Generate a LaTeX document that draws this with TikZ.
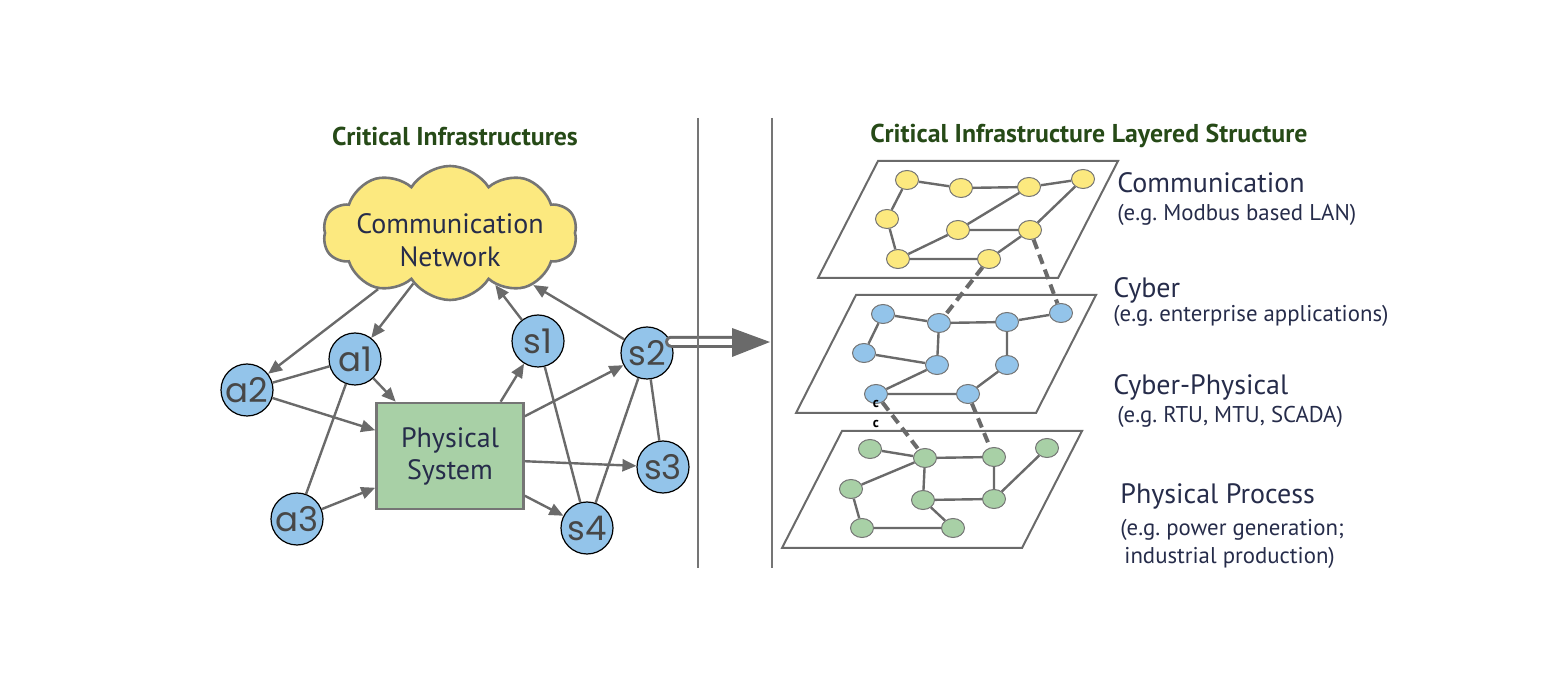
\documentclass[tikz,border=0pt]{standalone}
\usepackage{fontspec}
\setmainfont{PT Sans}
\newfontfamily\handfont{Poppins}
\frenchspacing
\usetikzlibrary{shapes.symbols,shapes.geometric,arrows.meta}
\definecolor{lgray}{HTML}{6A6A6A}
\definecolor{bgray}{HTML}{757575}
\definecolor{cblue}{HTML}{93C4EA}
\definecolor{cyell}{HTML}{FCE97F}
\definecolor{cgreen}{HTML}{A8D0A6}
\definecolor{navy}{HTML}{262C4A}
\definecolor{tgreen}{HTML}{264A17}
\tikzset{
  agent/.style={circle,draw=black,line width=0.6pt,fill=cblue,minimum size=26pt,inner sep=0pt,
    font=\handfont\fontsize{17}{17}\selectfont,text=black!72},
  conn/.style={draw=lgray,line width=1.2pt},
  arr/.style={conn,-{Triangle[length=7pt,width=6pt]}},
  plane/.style={draw=lgray,line width=1pt},
  ledge/.style={draw=lgray,line width=1.2pt},
  dashln/.style={draw=lgray,line width=2pt,dash pattern=on 5pt off 3pt},
  ynode/.style={ellipse,draw=bgray,line width=0.5pt,fill=cyell,minimum width=11.5pt,minimum height=9.5pt,inner sep=0pt},
  bnode/.style={ynode,fill=cblue},
  gnode/.style={ynode,fill=cgreen},
  lname/.style={anchor=mid west,inner sep=0pt,text=navy,font=\fontsize{14}{15}\selectfont},
  lsub/.style={anchor=mid west,inner sep=0pt,text=navy,font=\fontsize{11.4}{12}\selectfont},
  ttl/.style={inner sep=0pt,text=tgreen,font=\bfseries\fontsize{12.9}{14}\selectfont},
}
\begin{document}
\begin{tikzpicture}[x=0.5pt,y=-0.5pt]
\useasboundingbox (0,0) rectangle (1568,699);
% titles
\node[ttl] (t1) at (455,136) {Critical Infrastructures};
\node[ttl] (t2) at (1089,136) {Critical Infrastructure Layered Structure};
% cloud
\node[cloud,cloud puffs=10,cloud puff arc=115,aspect=2,draw=bgray,line width=1.3pt,fill=cyell,
  minimum width=127pt,minimum height=67pt,inner sep=0pt] (cl) at (450,233) {};
\node[align=center,text=navy,inner sep=0pt,font=\fontsize{14}{16.5}\selectfont] (cltext) at (450,240) {Communication\\Network};
% physical system
\node[draw=bgray,line width=1.3pt,fill=cgreen,minimum width=73.5pt,minimum height=53pt,inner sep=0pt,
  align=center,text=navy,font=\fontsize{14}{16}\selectfont] (box) at (450,456) {Physical\\System};
% agents
\node[agent] (a1) at (355,359) {a1};
\node[agent] (a2) at (247,390) {a2};
\node[agent] (a3) at (297,519) {a3};
\node[agent] (s1) at (538,341) {s1};
\node[agent] (s2) at (647,353) {s2};
\node[agent] (s3) at (663,467) {s3};
\node[agent] (s4) at (587,528) {s4};
% arrows
\draw[arr] (cl.218) -- (a2);
\draw[arr] (cl.234) -- (a1);
\draw[arr] (s1) -- (cl.311);
\draw[arr] (s2) -- (cl.328);
\draw[arr] (a1) -- (box.135);
\draw[arr] (a2) -- (box.161);
\draw[arr] (a3) -- (box.203);
\draw[arr] (box.47) -- (s1);
\draw[arr] (box.28) -- (s2);
\draw[arr] (box.356) -- (s3);
\draw[arr] (box.332) -- (s4);
\draw[conn] (a2) -- (a1);
\draw[conn] (a1) -- (a3);
\draw[conn] (s1) -- (s4);
\draw[conn] (s2) -- (s4);
\draw[conn] (s2) -- (s3);
% big arrow
\coordinate (sh) at (732,342);
\coordinate (tip) at (770,342);
\draw[draw=lgray,line width=1.5pt,double=white,double distance=3pt,line cap=round] (s2.25) -- (sh);
\fill[lgray] (732,328) -- (tip) -- (732,357) -- cycle;
% separators
\draw[draw=bgray,line width=1.25pt] (698,118) -- (698,568);
\draw[draw=bgray,line width=1.25pt] (772,118) -- (772,568);
% planes
\draw[plane] (878,161) -- (1118,161) -- (1058,278) -- (818,278) -- cycle;
\draw[plane] (856,295) -- (1096,295) -- (1036,413) -- (796,413) -- cycle;
\draw[plane] (842,431) -- (1082,431) -- (1022,548) -- (782,548) -- cycle;
% yellow nodes
\node[ynode] (y1) at (907,180) {};
\node[ynode] (y2) at (961,188) {};
\node[ynode] (y3) at (1029,187) {};
\node[ynode] (y4) at (1083,179) {};
\node[ynode] (y5) at (887,219) {};
\node[ynode] (y6) at (958,230) {};
\node[ynode] (y7) at (1030,230) {};
\node[ynode] (y8) at (898,259) {};
\node[ynode] (y9) at (989,259) {};
% blue nodes
\node[bnode] (b1) at (883,314) {};
\node[bnode] (b2) at (939,323) {};
\node[bnode] (b3) at (1007,322) {};
\node[bnode] (b4) at (1061,313) {};
\node[bnode] (b5) at (864,353) {};
\node[bnode] (b6) at (937,365) {};
\node[bnode] (b7) at (1007,365) {};
\node[bnode] (b8) at (876,394) {};
\node[bnode] (b9) at (968,394) {};
% green nodes
\node[gnode] (g1) at (870,449) {};
\node[gnode] (g2) at (925,458) {};
\node[gnode] (g3) at (994,457) {};
\node[gnode] (g4) at (1047,448) {};
\node[gnode] (g5) at (851,489) {};
\node[gnode] (g6) at (923,500) {};
\node[gnode] (g7) at (994,499) {};
\node[gnode] (g8) at (862,528) {};
\node[gnode] (g9) at (953,528) {};
% layer edges
\draw[ledge] (y1)--(y2) (y2)--(y3) (y3)--(y4) (y1)--(y5) (y5)--(y8) (y8)--(y9) (y8)--(y6) (y6)--(y7) (y6)--(y3) (y9)--(y7) (y7)--(y4);
\draw[ledge] (b1)--(b2) (b2)--(b3) (b3)--(b4) (b1)--(b5) (b5)--(b6) (b2)--(b6) (b3)--(b7) (b6)--(b8) (b8)--(b9) (b9)--(b7);
\draw[ledge] (g1)--(g2) (g2)--(g3) (g2)--(g5) (g2)--(g6) (g3)--(g7) (g6)--(g7) (g7)--(g4) (g5)--(g8) (g8)--(g9) (g6)--(g9);
% inter-layer dashed
\draw[dashln] (y9) -- (b2);
\draw[dashln] (y7) -- (b4);
\draw[dashln] (b8) -- (g2);
\draw[dashln] (b9) -- (g3);
% small c marks
\node[inner sep=0pt,font=\bfseries\fontsize{7}{7}\selectfont] (c1) at (876,404) {c};
\node[inner sep=0pt,font=\bfseries\fontsize{7}{7}\selectfont] (c2) at (876,424) {c};
% labels
\node[lname] (l1) at (1117,188) {Communication};
\node[lsub] (l1s) at (1117,216) {(e.g. Modbus based LAN)};
\node[lname] (l2) at (1113,293) {Cyber};
\node[lsub] (l2s) at (1113,317) {(e.g. enterprise applications)};
\node[lname] (l3) at (1113,390) {Cyber-Physical};
\node[lsub] (l3s) at (1117,418) {(e.g. RTU, MTU, SCADA)};
\node[lname] (l4) at (1120,499) {Physical Process};
\node[lsub] (l4s) at (1120,531) {(e.g. power generation;};
\node[lsub] (l4t) at (1124,559) {industrial production)};
\end{tikzpicture}
\end{document}
